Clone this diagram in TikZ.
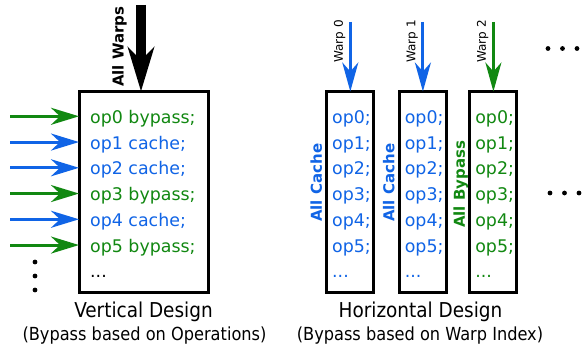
\documentclass[tikz,border=0pt]{standalone}
\usepackage{fontspec}
\setmainfont{DejaVu Sans}
\newfontfamily\capfont{DejaVu Sans Condensed}
\usetikzlibrary{arrows.meta}
\definecolor{opgreen}{RGB}{17,136,17}
\definecolor{opblue}{RGB}{16,100,230}
\begin{document}
\begin{tikzpicture}[x=1pt,y=-1pt,
 box/.style={draw=black, line width=3pt, inner sep=0pt, minimum height=201.5pt},
 optext/.style={anchor=base west, inner sep=0pt, font=\fontsize{17.4}{20}\selectfont},
 inarrow/.style={line width=3pt, -{Stealth[length=28pt,width=17pt,inset=9pt]}},
 warparrow/.style={line width=3pt, -{Stealth[length=29pt,width=16pt,inset=9pt]}},
 bigarrow/.style={line width=10pt, -{Stealth[length=44pt,width=26pt,inset=13pt]}},
 side/.style={rotate=90, anchor=base west, inner sep=0pt, font=\bfseries\fontsize{15}{18}\selectfont},
 wlabel/.style={rotate=90, anchor=base west, inner sep=0pt, font=\fontsize{12}{14}\selectfont},
 dotmark/.style={circle, fill=black, inner sep=0pt, minimum size=4.8pt},
 titletext/.style={anchor=base, inner sep=0pt, font=\capfont\fontsize{20.5}{24}\selectfont},
 subtext/.style={anchor=base, inner sep=0pt, font=\capfont\fontsize{18}{22}\selectfont}]
\useasboundingbox[fill=white] (0,0) rectangle (584,352);

% ---------- Vertical design ----------
\node[box, minimum width=129.5pt] (vbox) at (143.75,192.25) {};
\coordinate (vtop) at (141,91.5);
\coordinate (vsrc) at (141,5);
\draw[bigarrow] (vsrc) -- (vtop);
\node[side] (allwarps) at (123.5,87) {All Warps};

\foreach \i/\txt/\col in {0/op0 bypass;/opgreen,1/op1 cache;/opblue,2/op2 cache;/opblue,3/op3 bypass;/opgreen,4/op4 cache;/opblue,5/op5 bypass;/opgreen}{
  \node[optext, text=\col] (vt\i) at (90,123.3+25.75*\i) {\txt};
  \coordinate (vs\i) at (10,116.3+25.75*\i);
  \coordinate (ve\i) at (79,116.3+25.75*\i);
  \draw[inarrow, \col] (vs\i) -- (ve\i);
}
\node[optext] (vtdots) at (90,277.8) {...};
\node[dotmark] (ld1) at (35,262) {};
\node[dotmark] (ld2) at (35,276) {};
\node[dotmark] (ld3) at (35,290) {};

\node[titletext] (vtitle) at (143.5,317.7) {Vertical Design};
\node[subtext] (vsub) at (144.5,341) {(Bypass based on Operations)};

% ---------- Horizontal design ----------
\foreach \k/\cx/\col/\lab/\side/\sy in {0/350.3/opblue/Warp 0/All Cache/222,1/422.9/opblue/Warp 1/All Cache/222,2/493.4/opgreen/Warp 2/All Bypass/228}{
  \node[box, minimum width=47pt] (hb\k) at (\cx,192.25) {};
  \coordinate (ht\k) at (\cx,91.5);
  \coordinate (hs\k) at (\cx,22);
  \draw[warparrow, \col] (hs\k) -- (ht\k);
  \node[wlabel] (wl\k) at (\cx-7.5,63) {\lab};
  \node[side, text=\col] (sl\k) at (\cx-28.5,\sy) {\side};
  \foreach \i in {0,...,5}{
    \node[optext, text=\col] (h\k t\i) at (\cx-18.3,123.3+25.75*\i) {op\i;};
  }
  \node[optext, text=\col] (h\k dots) at (\cx-18.3,277.8) {...};
}

\node[dotmark] (rd1) at (548,48.5) {};
\node[dotmark] (rd2) at (562.5,48.5) {};
\node[dotmark] (rd3) at (577,48.5) {};
\node[dotmark] (rd4) at (550,193) {};
\node[dotmark] (rd5) at (564.5,193) {};
\node[dotmark] (rd6) at (579,193) {};

\node[titletext] (htitle) at (420.5,317.7) {Horizontal Design};
\node[subtext] (hsub) at (420,341) {(Bypass based on Warp Index)};
\end{tikzpicture}
\end{document}
